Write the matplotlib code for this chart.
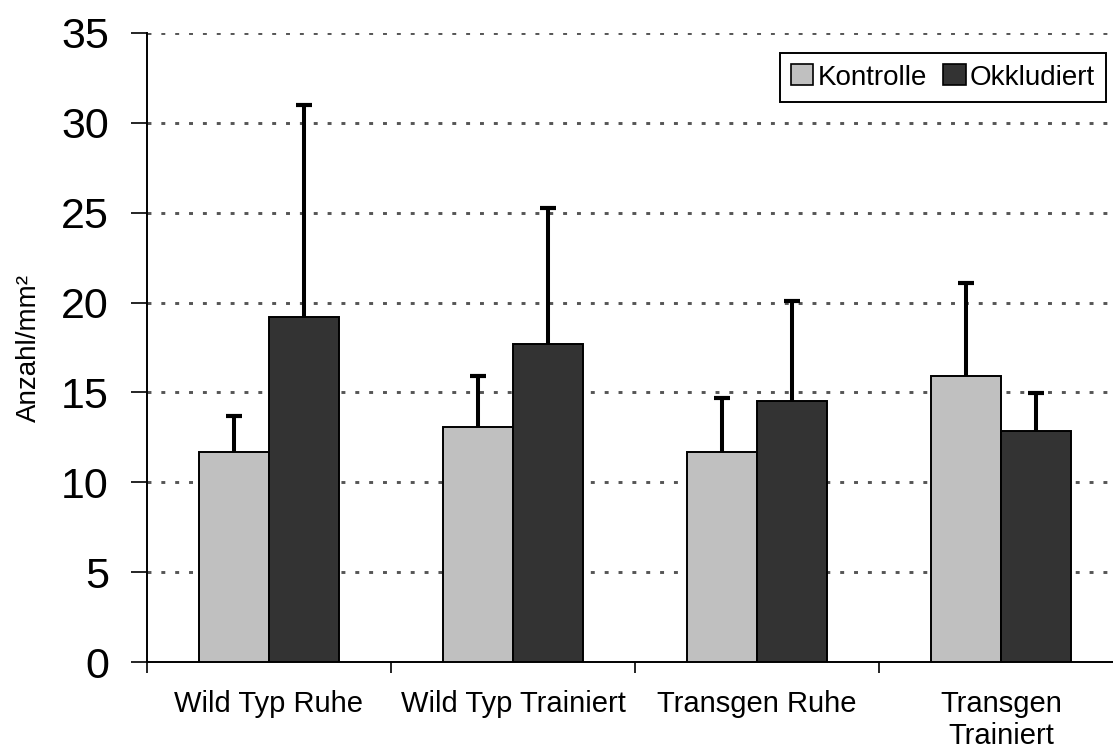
import numpy as np
import matplotlib
matplotlib.use("Agg")
import matplotlib.pyplot as plt
from matplotlib.patches import Patch

plt.rcParams["font.family"] = ["Liberation Sans", "DejaVu Sans"]

""" Data """

groups = ["Wild Typ Ruhe", "Wild Typ Trainiert", "Transgen Ruhe", "Transgen\nTrainiert"]
series_names = ["Kontrolle", "Okkludiert"]
kontrolle = [11.7, 13.1, 11.7, 15.9]
kontrolle_err = [2.0, 2.8, 3.0, 5.2]
okkludiert = [19.2, 17.7, 14.5, 12.85]
okkludiert_err = [11.8, 7.55, 5.6, 2.1]
yticks = [0, 5, 10, 15, 20, 25, 30, 35]

colors = ["#C0C0C0", "#333333"]

""" Figure """

fig = plt.figure(figsize=(11.13, 7.51), dpi=100)
ax = fig.add_axes([147 / 1113, 89 / 751, 976 / 1113, 629 / 751])

x = np.arange(len(groups))
w = 1 / 3.5

for i, (vals, errs) in enumerate([(kontrolle, kontrolle_err), (okkludiert, okkludiert_err)]):
    pos = x + (i - 0.5) * w
    ax.bar(pos, vals, width=w, color=colors[i], edgecolor="black",
           linewidth=1.4, zorder=3)
    line, caps, bars = ax.errorbar(
        pos, vals, yerr=[np.zeros(len(vals)), errs], fmt="none",
        ecolor="black", elinewidth=2.9, capsize=6, capthick=3, zorder=4)
    caps[0].set_visible(False)

# grid (dotted like excel)
for t in yticks[1:]:
    ax.axhline(t, color="#555555", linewidth=2.1, linestyle=(0, (1.35, 3.4)),
               zorder=1)

ax.set_xlim(-0.5, len(groups) - 0.5)
ax.set_ylim(0, 35)
ax.set_yticks(yticks)
ax.set_yticklabels([str(t) for t in yticks], fontsize=31)
ax.set_xticks(np.arange(len(groups) + 1) - 0.5)
ax.set_xticklabels([])
ax.set_xticks(x, minor=True)
xlabels = ax.set_xticklabels(groups, minor=True, fontsize=21)
for lab in xlabels:
    lab.set_linespacing(1.18)
ax.tick_params(axis="x", which="minor", length=0, pad=20)
ax.tick_params(axis="x", which="major", length=8, width=1.2, direction="out")
ax.tick_params(axis="y", length=11.5, width=1.2, direction="out", pad=16)

for s in ["top", "right"]:
    ax.spines[s].set_visible(False)
for s in ["left", "bottom"]:
    ax.spines[s].set_linewidth(1.4)

ax.set_ylabel("Anzahl/mm²", fontsize=20, labelpad=14)

handles = [Patch(facecolor=c, edgecolor="black", linewidth=1.2) for c in colors]
leg = ax.legend(handles, series_names, loc="upper right",
                bbox_to_anchor=(0.9826, 0.968), borderaxespad=0,
                fontsize=20, ncol=2, handlelength=0.8, handleheight=0.8,
                handletextpad=0.15, columnspacing=0.6, borderpad=0.4,
                fancybox=False, framealpha=1, edgecolor="black")
leg.get_frame().set_linewidth(1.4)

plt.savefig("out.png", dpi=100)
